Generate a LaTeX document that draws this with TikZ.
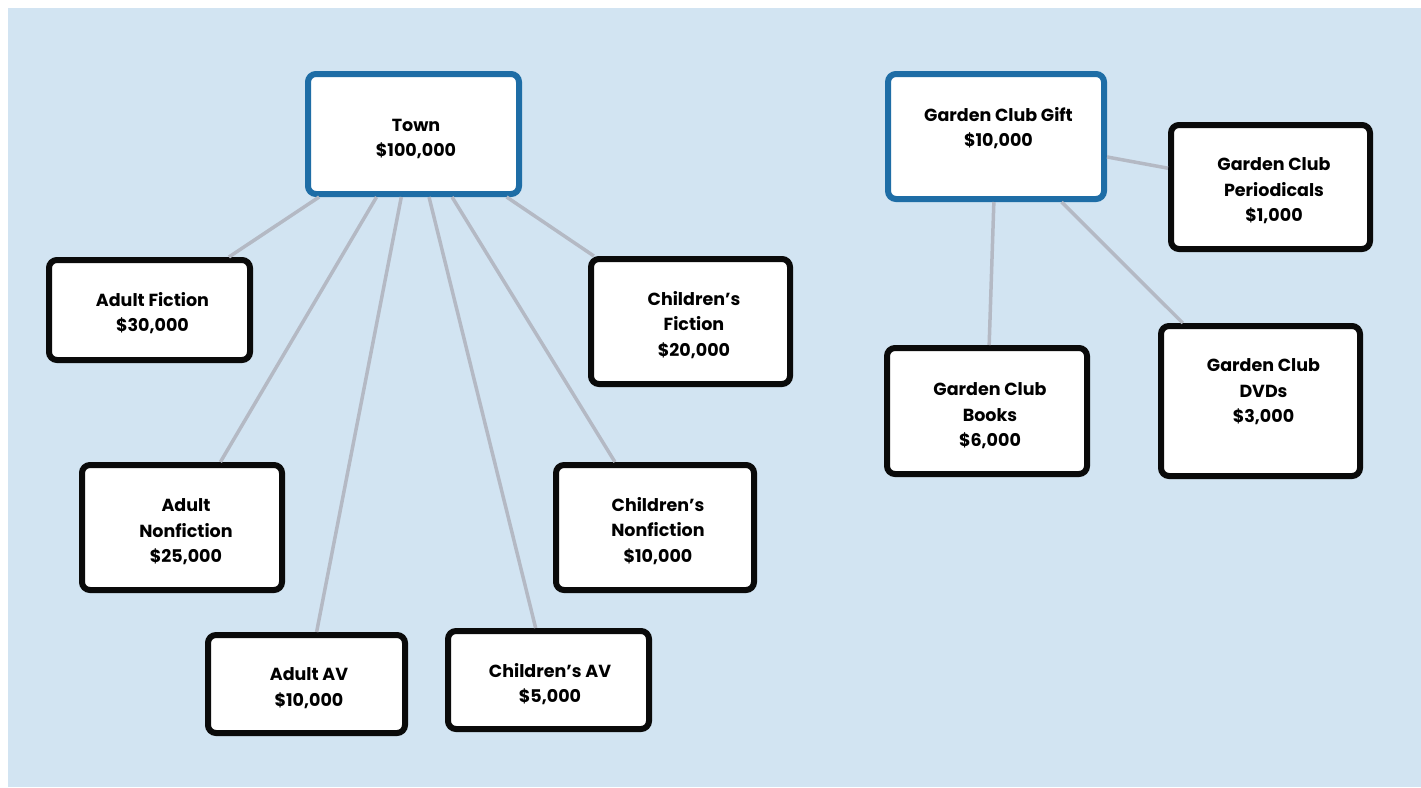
\documentclass[tikz,border=0pt]{standalone}
\usepackage{fontspec}
\setmainfont{Poppins}
\definecolor{bg}{RGB}{210,228,242}
\definecolor{topblue}{RGB}{30,109,166}
\definecolor{linkgrey}{RGB}{180,185,196}
\definecolor{boxblack}{RGB}{10,10,10}
\tikzset{
  box/.style={rectangle, rounded corners=8pt, line width=6pt, draw=boxblack, fill=white, inner sep=0pt},
  topbox/.style={box, draw=topblue},
  lbl/.style={align=center, font=\fontsize{17.5}{25.5}\selectfont\bfseries, text=black, inner sep=0pt},
  link/.style={draw=linkgrey, line width=3.5pt}
}
\begin{document}
\begin{tikzpicture}[x=1pt,y=-1pt]
\useasboundingbox (0,0) rectangle (1421,787);
\fill[white] (0,0) rectangle (1421,787);
\fill[bg] (8,8) rectangle (1421,787);
% boxes
\node[topbox, minimum width=211pt, minimum height=120pt] (town) at (413.5,134) {};
\node[topbox, minimum width=216pt, minimum height=125pt] (gcg) at (996,136.5) {};
\node[box, minimum width=199pt, minimum height=124pt] (per) at (1270.5,187) {};
\node[box, minimum width=201pt, minimum height=100pt] (af) at (149.5,310) {};
\node[box, minimum width=199pt, minimum height=125pt] (cf) at (690.5,321.5) {};
\node[box, minimum width=200pt, minimum height=125pt] (an) at (182,527.5) {};
\node[box, minimum width=198pt, minimum height=125pt] (cn) at (655,527.5) {};
\node[box, minimum width=197pt, minimum height=98pt] (aav) at (306.5,684) {};
\node[box, minimum width=201pt, minimum height=98pt] (cav) at (548.5,680) {};
\node[box, minimum width=200pt, minimum height=126pt] (bks) at (987,411) {};
\node[box, minimum width=199pt, minimum height=150pt] (dvd) at (1260.5,401) {};
% connectors
\draw[link] (town) -- (af);
\draw[link] (town) -- (an);
\draw[link] (town) -- (aav);
\draw[link] (town) -- (cav);
\draw[link] (town) -- (cn);
\draw[link] (town) -- (cf);
\draw[link] (gcg) -- (per);
\draw[link] (gcg) -- (bks);
\draw[link] (gcg) -- (dvd);
% labels
\node[lbl] (townt) at (416,139) {Town\\\$100,000};
\node[lbl] (gcgt) at (998.5,128) {Garden Club Gift\\\$10,000};
\node[lbl] (pert) at (1274,191) {Garden Club\\Periodicals\\\$1,000};
\node[lbl] (aft) at (152.5,313) {Adult Fiction\\\$30,000};
\node[lbl] (cft) at (694,325) {Children's\\Fiction\\\$20,000};
\node[lbl] (ant) at (186,532) {Adult\\Nonfiction\\\$25,000};
\node[lbl] (cnt) at (658,531) {Children's\\Nonfiction\\\$10,000};
\node[lbl] (aavt) at (309,688) {Adult AV\\\$10,000};
\node[lbl] (cavt) at (550,684) {Children's AV\\\$5,000};
\node[lbl] (bkst) at (990,416) {Garden Club\\Books\\\$6,000};
\node[lbl] (dvdt) at (1263.5,392) {Garden Club\\DVDs\\\$3,000};
\end{tikzpicture}
\end{document}
